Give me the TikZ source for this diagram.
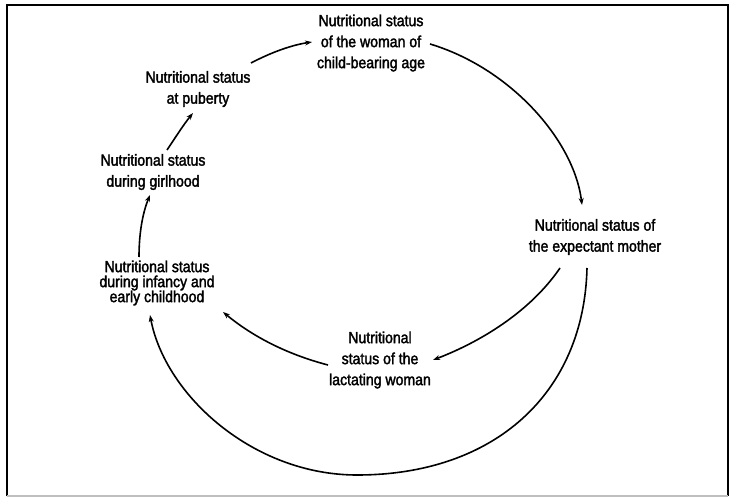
\documentclass[tikz,border=0pt]{standalone}
\usepackage{fontspec}
\setmainfont{Liberation Sans}[FakeStretch=0.88,FakeBold=2]
\usetikzlibrary{arrows.meta}
\begin{document}
\begin{tikzpicture}[x=1pt,y=-1pt,
  lbl/.style={align=center,inner sep=0pt,font=\fontsize{16}{21}\selectfont},
  tight/.style={font=\fontsize{16}{15}\selectfont},
  conn/.style={line width=1.6pt,-{Stealth[length=7pt,width=5pt]}}]
\useasboundingbox (0,0) rectangle (731,497);
\draw[line width=1.8pt] (7,496) -- (7,5) -- (728,5) -- (728,496);
\draw[line width=1.5pt,gray!50] (7,496) -- (728,496);
\node[lbl] (woman) at (371,43) {Nutritional status\\of the woman of\\child-bearing age};
\node[lbl] (puberty) at (198,89) {Nutritional status\\at puberty};
\node[lbl] (girlhood) at (153,172) {Nutritional status\\during girlhood};
\node[lbl,tight] (infancy) at (157,283) {Nutritional status\\during infancy and\\early childhood};
\node[lbl] (expectant) at (595,237) {Nutritional status of\\the expectant mother};
\node[lbl] (lactating) at (380,360) {Nutritional\\status of the\\lactating woman};
\draw[conn] ([shift={(53,-26)}]puberty.center) .. controls (272,52) and (292,45) .. ([shift={(-59,-1)}]woman.center);
\draw[conn] ([shift={(14,-22)}]girlhood.center) .. controls (175,138) and (184,124) .. ([shift={(-5,24)}]puberty.center);
\draw[conn] ([shift={(-18,-26)}]infancy.center) .. controls (139,232) and (143,212) .. ([shift={(-3,23)}]girlhood.center);
\draw[conn] ([shift={(59,1)}]woman.center) .. controls (510,68) and (574,140) .. ([shift={(-13,-32)}]expectant.center);
\draw[conn] ([shift={(-35,31)}]expectant.center) .. controls (530,312) and (480,342) .. ([shift={(53,0)}]lactating.center);
\draw[conn] ([shift={(-52,5)}]lactating.center) .. controls (286,354) and (252,336) .. ([shift={(66,29)}]infancy.center);
\draw[conn] ([shift={(-8,31)}]expectant.center) .. controls (584,393) and (495,475) .. (357,475)
  .. controls (253,475) and (165,395) .. ([shift={(-7,32)}]infancy.center);
\end{tikzpicture}
\end{document}
